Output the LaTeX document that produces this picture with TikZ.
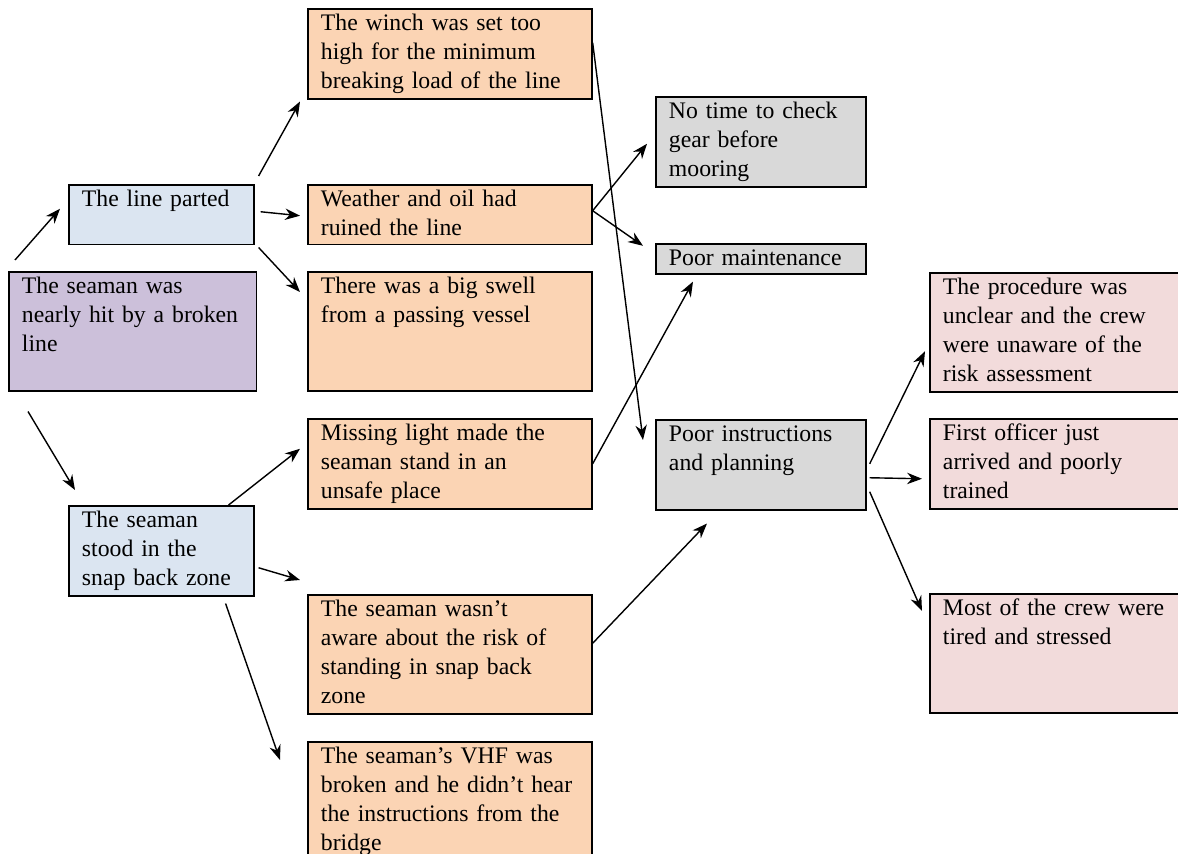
\documentclass[tikz,border=0pt]{standalone}
\usepackage{fontspec}
\setmainfont{Liberation Serif}
\usetikzlibrary{arrows.meta}
\definecolor{rootfill}{HTML}{CCC0DA}
\definecolor{bluefill}{HTML}{DBE5F1}
\definecolor{orangefill}{HTML}{FBD4B4}
\definecolor{grayfill}{HTML}{D9D9D9}
\definecolor{pinkfill}{HTML}{F2DBDB}
\tikzset{
  box/.style={draw, line width=0.9pt, anchor=north west, align=left,
    inner xsep=7.5pt, inner ysep=2pt, text height=10.5pt,
    font=\fontsize{13.5}{16.4}\selectfont},
  hthin/.style={text depth=2.6pt},
  hsmall/.style={text depth=19.6pt},
  hmid/.style={text depth=36.7pt},
  hbig/.style={text depth=53.2pt},
  arr/.style={-{Stealth[length=8.5pt,width=6.5pt]}, line width=0.8pt},
}
\begin{document}
\begin{tikzpicture}[x=0.02cm, y=-0.02cm]
  \useasboundingbox (0,0) rectangle (1178,854);
  % first column: the event and its two direct causes
  \node[box, hbig, fill=rootfill, text width=126pt] (root) at (8,271)
    {The seaman was\\nearly hit by a broken\\line};
  \node[box, hsmall, fill=bluefill, text width=90.3pt] (parted) at (68,184)
    {The line parted};
  \node[box, hmid, fill=bluefill, text width=90.3pt] (stood) at (68,505)
    {The seaman\\stood in the\\snap back zone};
  % second column
  \node[box, hmid, fill=orangefill, text width=146.7pt] (winch) at (307,8)
    {The winch was set too\\high for the minimum\\breaking load of the line};
  \node[box, hsmall, fill=orangefill, text width=146.7pt] (weather) at (307,184)
    {Weather and oil had\\ruined the line};
  \node[box, hbig, fill=orangefill, text width=146.7pt] (swell) at (307,271)
    {There was a big swell\\from a passing vessel};
  \node[box, hmid, fill=orangefill, text width=146.7pt] (light) at (307,418)
    {Missing light made the\\seaman stand in an\\unsafe place};
  \node[box, hbig, fill=orangefill, text width=146.7pt] (aware) at (307,594)
    {The seaman wasn't\\aware about the risk of\\standing in snap back\\zone};
  \node[box, text depth=56.6pt, fill=orangefill, text width=146.7pt] (vhf) at (307,741)
    {The seaman's VHF was\\broken and he didn't hear\\the instructions from the\\bridge};
  % third column: underlying factors
  \node[box, hmid, fill=grayfill, text width=104.6pt] (notime) at (655,96)
    {No time to check\\gear before\\mooring};
  \node[box, hthin, fill=grayfill, text width=104.6pt] (maint) at (655,243)
    {Poor maintenance};
  \node[box, hmid, fill=grayfill, text width=104.6pt] (instr) at (655,419)
    {Poor instructions\\and planning};
  % fourth column
  \node[box, hbig, fill=pinkfill, text width=133.5pt] (proc) at (929,272)
    {The procedure was\\unclear and the crew\\were unaware of the\\risk assessment};
  \node[box, hmid, fill=pinkfill, text width=133.5pt] (officer) at (929,418)
    {First officer just\\arrived and poorly\\trained};
  \node[box, hbig, fill=pinkfill, text width=133.5pt] (tired) at (929,593)
    {Most of the crew were\\tired and stressed};
  % connectors
  \draw[arr] ([shift={(7,-11)}]root.north west) -- ([shift={(-8,-6)}]parted.west);
  \draw[arr] ([shift={(20,20)}]root.south west) -- ([shift={(7,-15)}]stood.north west);
  \draw[arr] ([shift={(4,-8)}]parted.north east) -- ([shift={(-7,2)}]winch.south west);
  \draw[arr] ([shift={(6,-3)}]parted.east) -- ([shift={(-7,1)}]weather.west);
  \draw[arr] ([shift={(4,2)}]parted.south east) -- ([shift={(-7,21)}]swell.north west);
  \draw[arr] ([shift={(0,-4)}]weather.east) -- ([shift={(-8,2)}]notime.west);
  \draw[arr] ([shift={(0,-4)}]weather.east) -- ([shift={(-12,-13)}]maint.west);
  \draw[arr] ([shift={(0,-11)}]winch.east) -- ([shift={(-12,21)}]instr.north west);
  \draw[arr] (light.east) -- ([shift={(38,7)}]maint.south west);
  \draw[arr] ([shift={(-26,0)}]stood.north east) -- ([shift={(-7,-15)}]light.west);
  \draw[arr] ([shift={(4,17)}]stood.east) -- ([shift={(-7,-14)}]aware.north west);
  \draw[arr] ([shift={(-29,7)}]stood.south east) -- ([shift={(-27,19)}]vhf.north west);
  \draw[arr] ([shift={(0,-11)}]aware.east) -- ([shift={(52,13)}]instr.south west);
  \draw[arr] ([shift={(3,-1)}]instr.east) -- ([shift={(-4,19)}]proc.west);
  \draw[arr] ([shift={(3,13)}]instr.east) -- ([shift={(-7,15)}]officer.west);
  \draw[arr] ([shift={(3,27)}]instr.east) -- ([shift={(-7,18)}]tired.north west);
\end{tikzpicture}
\end{document}
